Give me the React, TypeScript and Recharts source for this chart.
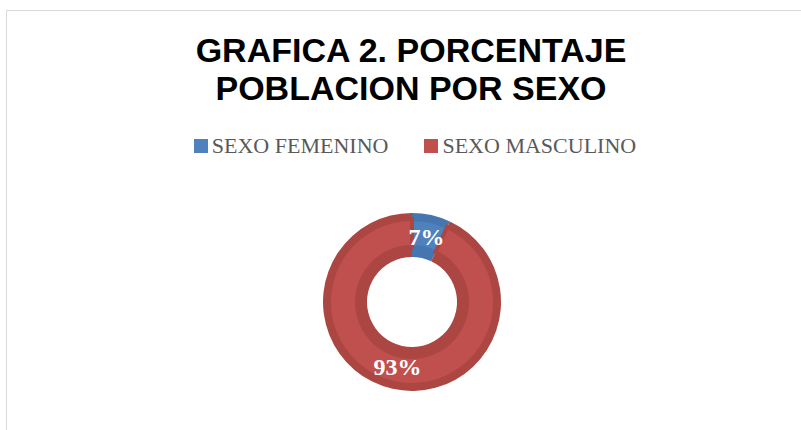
import React from 'react';
import { PieChart, Pie, Cell } from 'recharts';

const categories = ['SEXO FEMENINO', 'SEXO MASCULINO'];
const percentages = [7, 93];
const lightColors = ['#4F81BD', '#C0504D'];
const darkColors = ['#4676B0', '#AC4642'];

const data = categories.map((name, i) => ({ name, value: percentages[i] }));

const CX = 412;
const CY = 302;
const RAD = Math.PI / 180;

const renderLabel = (props: any) => {
  const { cx, cy, midAngle, value } = props;
  const r = 67;
  const x = cx + r * Math.cos(-midAngle * RAD);
  const y = cy + r * Math.sin(-midAngle * RAD);
  return (
    <text
      x={x}
      y={y}
      fill="#ffffff"
      textAnchor="middle"
      dominantBaseline="central"
      fontFamily="'Liberation Serif', serif"
      fontWeight="bold"
      fontSize={24}
    >
      {`${value}%`}
    </text>
  );
};

export default function App() {
  return (
    <div style={{ position: 'relative', width: 801, height: 430, overflow: 'hidden', background: '#fff' }}>
      <style>{'body{margin:0;overflow:hidden;}'}</style>
      <div style={{ position: 'absolute', left: 6, top: 10, width: 900, height: 500, borderLeft: '1px solid #D9D9D9', borderTop: '1px solid #D9D9D9' }} />
      <div style={{ position: 'absolute', left: 0, top: 31, width: 822, textAlign: 'center', fontFamily: "'Liberation Sans', Arial, sans-serif", fontWeight: 'bold', fontSize: 34, lineHeight: '38px', color: '#000' }}>
        GRAFICA 2. PORCENTAJE
        <br />
        POBLACION POR SEXO
      </div>
      <div style={{ position: 'absolute', left: 0, top: 0 }}>
        <PieChart width={801} height={430} margin={{ top: 0, right: 0, bottom: 0, left: 0 }}>
          <Pie
            data={data}
            dataKey="value"
            nameKey="name"
            cx={CX}
            cy={CY}
            innerRadius={45}
            outerRadius={89}
            startAngle={90}
            endAngle={-270}
            stroke="none"
            isAnimationActive={false}
          >
            {data.map((d, i) => (
              <Cell key={d.name} fill={darkColors[i]} />
            ))}
          </Pie>
          <Pie
            data={data}
            dataKey="value"
            nameKey="name"
            cx={CX}
            cy={CY}
            innerRadius={55}
            outerRadius={83}
            startAngle={90}
            endAngle={-270}
            strokeWidth={4}
            label={renderLabel}
            labelLine={false}
            isAnimationActive={false}
          >
            {data.map((d, i) => (
              <Cell key={d.name} fill={lightColors[i]} stroke={darkColors[i]} />
            ))}
          </Pie>
        </PieChart>
      </div>
      <div style={{ position: 'absolute', left: 0, top: 131, width: 830, display: 'flex', justifyContent: 'center', gap: 36, fontFamily: "'Liberation Serif', serif", fontSize: 22, lineHeight: '30px', color: '#595959' }}>
        {categories.map((c, i) => (
          <div key={c} style={{ display: 'flex', alignItems: 'center' }}>
            <span style={{ width: 14, height: 14, background: lightColors[i], display: 'inline-block', marginRight: 4 }} />
            <span>{c}</span>
          </div>
        ))}
      </div>
    </div>
  );
}
